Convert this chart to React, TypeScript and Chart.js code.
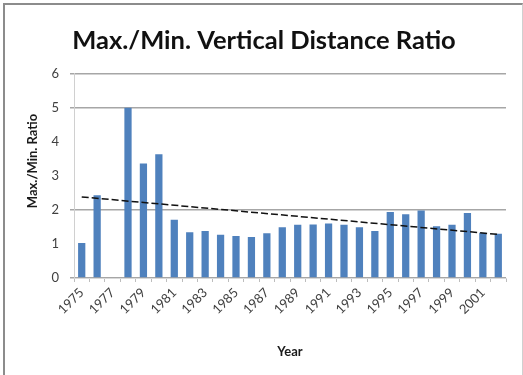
import React, { useEffect, useRef } from "react";
import { Chart, registerables } from "chart.js";

Chart.register(...registerables);

const years: string[] = [
  "1975", "1976", "1977", "1978", "1979", "1980", "1981", "1982", "1983", "1984",
  "1985", "1986", "1987", "1988", "1989", "1990", "1991", "1992", "1993", "1994",
  "1995", "1996", "1997", "1998", "1999", "2000", "2001", "2002",
];
const ratios: (number | null)[] = [
  1.03, 2.43, null, 5.0, 3.36, 3.63, 1.71, 1.34, 1.38, 1.27,
  1.23, 1.2, 1.31, 1.49, 1.56, 1.57, 1.6, 1.56, 1.49, 1.38,
  1.94, 1.87, 1.98, 1.52, 1.56, 1.91, 1.33, 1.3,
];
const trendStart = 2.38;
const trendEnd = 1.28;
const visibleGrid: number[] = [0, 2, 5, 6];

const FONT = "Lato, 'Liberation Sans', sans-serif";

const yTitlePlugin = {
  id: "yTitlePlugin",
  afterDraw(chart: any) {
    const ctx = chart.ctx;
    ctx.save();
    ctx.translate(33, 161);
    ctx.rotate(-Math.PI / 2);
    ctx.font = `bold 13px ${FONT}`;
    ctx.fillStyle = "#1a1a1a";
    ctx.textAlign = "center";
    ctx.textBaseline = "middle";
    ctx.fillText("Max./Min. Ratio", 0, 0);
    ctx.restore();
  },
};

export default function App() {
  const ref = useRef<HTMLCanvasElement>(null);
  useEffect(() => {
    if (!ref.current) return;
    const last = years.length - 1;
    const trend = years.map((_, i) => (i === 0 ? trendStart : i === last ? trendEnd : null));
    const chart = new Chart(ref.current, {
      type: "bar",
      data: {
        labels: years,
        datasets: [
          {
            type: "line",
            label: "Trend",
            data: trend,
            borderColor: "#111",
            borderWidth: 1.5,
            borderDash: [7, 3],
            pointRadius: 0,
            spanGaps: true,
            order: 0,
          } as any,
          {
            type: "bar",
            label: "Ratio",
            data: ratios,
            backgroundColor: "#4F81BD",
            categoryPercentage: 1,
            barPercentage: 0.47,
            order: 1,
          },
        ],
      },
      options: {
        animation: false,
        responsive: false,
        maintainAspectRatio: false,
        layout: { padding: { left: 22, right: 17, top: 0, bottom: 0 } },
        plugins: {
          legend: { display: false },
          tooltip: { enabled: false },
          title: {
            display: true,
            text: "Max./Min. Vertical Distance Ratio",
            font: { family: FONT, size: 25.5, weight: "bold" },
            color: "#111",
            padding: { top: 25, bottom: 18 },
          },
        },
        scales: {
          x: {
            offset: true,
            grid: {
              offset: true,
              drawOnChartArea: false,
              drawTicks: true,
              tickLength: 4,
              color: "#bdbdbd",
            },
            border: { display: true, color: "#d9d9d9" },
            ticks: {
              autoSkip: false,
              maxRotation: 45,
              minRotation: 45,
              font: { family: FONT, size: 13 },
              color: "#404040",
              padding: 3,
              callback: (_v: any, i: number) => (i % 2 === 0 ? years[i] : ""),
            },
            title: {
              display: true,
              text: "Year",
              font: { family: FONT, size: 13, weight: "bold" },
              color: "#1a1a1a",
              padding: { top: 4, bottom: 15 },
            },
            afterFit: (s: any) => {
              s.height = 97;
            },
          } as any,
          y: {
            min: 0,
            max: 6,
            ticks: {
              stepSize: 1,
              font: { family: FONT, size: 13 },
              color: "#404040",
              padding: 11,
            },
            grid: {
              tickLength: 4,
              lineWidth: 1.5,
              color: (c: any) =>
                visibleGrid.includes(c.tick?.value) ? "#a6a6a6" : "rgba(0,0,0,0)",
            },
            border: { display: true, color: "#d0d0d0" },
            afterFit: (s: any) => {
              s.width = 52;
            },
          } as any,
        },
      },
      plugins: [yTitlePlugin],
    });
    return () => chart.destroy();
  }, []);

  return (
    <div style={{ position: "fixed", left: 0, top: 0, width: 523, height: 375, background: "#fff" }}>
      <canvas ref={ref} width={523} height={375} style={{ position: "absolute", left: 0, top: 0 }} />
      <div
        style={{
          position: "absolute",
          left: 3,
          top: 3,
          width: 517,
          height: 372,
          borderTop: "2px solid #8c8c8c",
          borderLeft: "2px solid #8c8c8c",
          borderRight: "1px solid #d0d0d0",
          pointerEvents: "none",
        }}
      />
    </div>
  );
}
